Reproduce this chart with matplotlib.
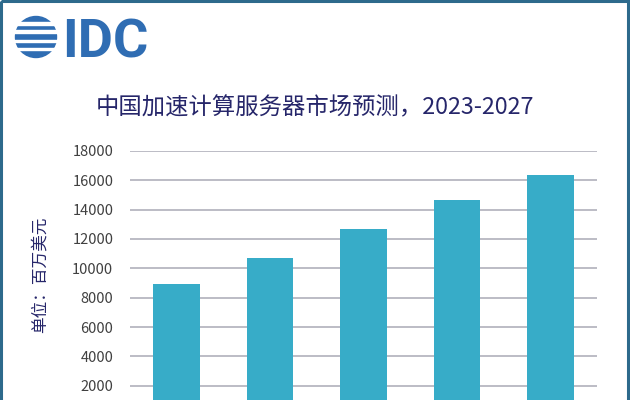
import matplotlib.pyplot as plt
from matplotlib.patches import Circle, Rectangle

plt.rcParams['font.family'] = ['Noto Sans CJK SC', 'DejaVu Sans']

years = ["2023", "2024", "2025", "2026", "2027"]
market = [8940, 10720, 12670, 14650, 16380]
yticks = [2000, 4000, 6000, 8000, 10000, 12000, 14000, 16000, 18000]

title = "中国加速计算服务器市场预测，2023-2027"
unit_label = "单位：百万美元"

BAR = "#37acc8"
NAVY = "#26266a"
LOGO = "#2f6db3"
FRAME = "#2d6a8c"

fig = plt.figure(figsize=(6.3, 4), dpi=100, facecolor="white")

# main chart (bottom runs past the canvas, like the cropped original)
ax = fig.add_axes([130 / 630, -0.038, 467 / 630, 0.661])
ax.bar(years, market, width=0.5, color=BAR, zorder=3)
ax.set_xlim(-0.5, len(years) - 0.5)
ax.set_ylim(0, 18000)
ax.set_yticks(yticks)
ax.set_yticklabels([str(v) for v in yticks])
ax.grid(axis="y", color="#b0b0bb", linewidth=1.2, zorder=0)
for s in ax.spines.values():
    s.set_visible(False)
ax.tick_params(axis="y", length=0, pad=12, labelsize=10.5, labelcolor="#404040")
# year labels sit below the crop in the original
ax.tick_params(axis="x", length=0, labelbottom=False)

fig.text(315 / 630, 1 - 108 / 400, title, ha="center", va="center",
         fontsize=16.8, color=NAVY)
fig.text(40 / 630, 1 - 275 / 400, unit_label, rotation=90, ha="center",
         va="center", fontsize=12, color=NAVY)

# overlay in pixel coords for logo and frame
ov = fig.add_axes([0, 0, 1, 1], facecolor="none")
ov.set_xlim(0, 630)
ov.set_ylim(400, 0)
ov.axis("off")

ov.add_patch(Circle((36, 37), 20.5, color=LOGO))
for yy in [23.5, 31.5, 41, 49]:
    ov.add_patch(Rectangle((14, yy - 1.2), 44, 2.4, color="white"))
ov.text(62, 57, "IDC", ha="left", va="baseline", fontsize=39,
        fontweight="bold", family="Roboto", color=LOGO)

ov.add_patch(Rectangle((0.5, 0.5), 627, 410, fill=False,
                       edgecolor=FRAME, linewidth=2.2))

fig.savefig("out.png", dpi=100)
